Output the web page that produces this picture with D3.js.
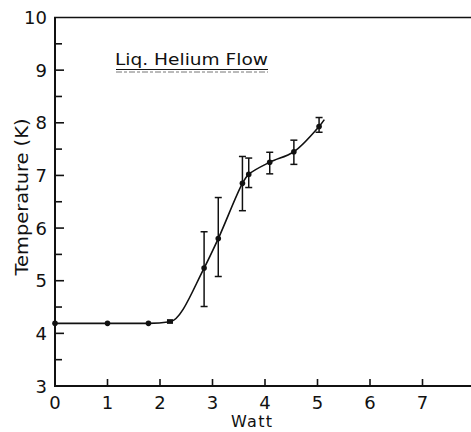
<!DOCTYPE html>
<html>
<head>
  <script src="https://d3js.org/d3.v7.min.js"></script>
  <style>
    body { margin: 0; background: #fff; }
    text { font-family: "DejaVu Sans", sans-serif; fill: #111; }
  </style>
</head>
<body>
  <svg id="svg" width="471" height="432"></svg>
  <script>
    // data
    const watt = [0, 1.0, 1.78, 2.19, 2.84, 3.11, 3.57, 3.69, 4.09, 4.55, 5.03];
    const temp = [4.19, 4.19, 4.19, 4.22, 5.24, 5.80, 6.85, 7.02, 7.25, 7.45, 7.93];
    const errLow = [null, null, null, 4.18, 4.51, 5.08, 6.33, 6.77, 7.03, 7.21, 7.82];
    const errHigh = [null, null, null, 4.27, 5.93, 6.58, 7.36, 7.33, 7.44, 7.67, 8.10];
    const marker = ["circle", "circle", "circle", "square", "circle", "circle", "circle", "circle", "circle", "circle", "circle"];
    // end of the hand-drawn curve, past the last point
    const curveEnd = [5.13, 8.06];
    const xTicks = [0, 1, 2, 3, 4, 5, 6, 7];
    const yTicks = [3, 4, 5, 6, 7, 8, 9, 10];
    const yMinor = [3.5, 4.5, 5.5, 6.5, 7.5, 8.5, 9.5];

    const svg = d3.select("#svg");

    const x = d3.scaleLinear().domain([0, 7]).range([55, 422.5]);
    const y = d3.scaleLinear().domain([3, 10]).range([386, 17.5]);

    const points = watt.map((w, i) => ({ w: w, t: temp[i], lo: errLow[i], hi: errHigh[i], m: marker[i] }));

    const ink = "#111";

    // frame: left, bottom, top (open on the right)
    svg.append("line").attr("x1", 55).attr("x2", 55).attr("y1", y(10)).attr("y2", y(3))
      .attr("stroke", ink).attr("stroke-width", 2);
    svg.append("line").attr("x1", 54).attr("x2", 471).attr("y1", y(3)).attr("y2", y(3))
      .attr("stroke", ink).attr("stroke-width", 2);
    svg.append("line").attr("x1", 54).attr("x2", 471).attr("y1", y(10)).attr("y2", y(10))
      .attr("stroke", ink).attr("stroke-width", 1.6);

    // y axis ticks (inward) and labels
    svg.selectAll("line.ymaj").data(yTicks.slice(1, -1)).join("line")
      .attr("class", "ymaj")
      .attr("x1", 55).attr("x2", 64).attr("y1", d => y(d)).attr("y2", d => y(d))
      .attr("stroke", ink).attr("stroke-width", 1.6);
    svg.selectAll("line.ymin").data(yMinor).join("line")
      .attr("class", "ymin")
      .attr("x1", 55).attr("x2", 62).attr("y1", d => y(d)).attr("y2", d => y(d))
      .attr("stroke", ink).attr("stroke-width", 1.6);
    svg.selectAll("text.ylab").data(yTicks).join("text")
      .attr("class", "ylab")
      .attr("x", 47).attr("y", d => y(d) + 6.5)
      .attr("text-anchor", "end")
      .style("font-size", "18px")
      .text(d => d);

    // x axis ticks (inward) and labels
    svg.selectAll("line.xmaj").data(xTicks.slice(1)).join("line")
      .attr("class", "xmaj")
      .attr("x1", d => x(d)).attr("x2", d => x(d)).attr("y1", y(3)).attr("y2", y(3) - 7)
      .attr("stroke", ink).attr("stroke-width", 1.6);
    svg.selectAll("text.xlab").data(xTicks).join("text")
      .attr("class", "xlab")
      .attr("x", d => x(d)).attr("y", 409)
      .attr("text-anchor", "middle")
      .style("font-size", "18px")
      .text(d => d);

    // axis titles
    svg.append("text").attr("x", 231).attr("y", 427)
      .attr("textLength", 41).attr("lengthAdjust", "spacing")
      .style("font-size", "16px").text("Watt");
    svg.append("text")
      .attr("transform", "translate(28,197) rotate(-90)")
      .attr("text-anchor", "middle")
      .attr("textLength", 157).attr("lengthAdjust", "spacingAndGlyphs")
      .style("font-size", "18px").text("Temperature (K)");

    // title with double underline
    svg.append("text").attr("x", 115).attr("y", 65)
      .attr("textLength", 153).attr("lengthAdjust", "spacingAndGlyphs")
      .style("font-size", "16px").text("Liq. Helium Flow");
    svg.append("line").attr("x1", 116).attr("x2", 268).attr("y1", 69.5).attr("y2", 69.5)
      .attr("stroke", ink).attr("stroke-width", 1.2);
    svg.append("line").attr("x1", 116).attr("x2", 268).attr("y1", 72).attr("y2", 72)
      .attr("stroke", "#777").attr("stroke-width", 1).attr("stroke-dasharray", "6,2,3,2");

    // smooth curve: monotone for the flat run and the knee,
    // catmull-rom (clipped) for the upper part
    const curveData = points.map(d => [d.w, d.t]).concat([curveEnd]);
    const joinAt = 5; // index of the point where the two pieces meet
    const lowLine = d3.line()
      .x(d => x(d[0]))
      .y(d => y(d[1]))
      .curve(d3.curveMonotoneX);
    const highLine = d3.line()
      .x(d => x(d[0]))
      .y(d => y(d[1]))
      .curve(d3.curveCatmullRom.alpha(0.5));

    svg.append("clipPath").attr("id", "highClip")
      .append("rect")
      .attr("x", x(watt[joinAt])).attr("y", 0)
      .attr("width", 471 - x(watt[joinAt])).attr("height", 432);

    svg.append("path")
      .attr("d", lowLine(curveData.slice(0, joinAt + 1)))
      .attr("fill", "none").attr("stroke", ink).attr("stroke-width", 1.6);
    svg.append("path")
      .attr("d", highLine(curveData.slice(joinAt - 1)))
      .attr("clip-path", "url(#highClip)")
      .attr("fill", "none").attr("stroke", ink).attr("stroke-width", 1.6);

    // error bars
    const errs = points.filter(d => d.lo !== null && d.m === "circle");
    const eb = svg.append("g").attr("stroke", ink).attr("stroke-width", 1.5);
    eb.selectAll("line.v").data(errs).join("line")
      .attr("x1", d => x(d.w)).attr("x2", d => x(d.w))
      .attr("y1", d => y(d.lo)).attr("y2", d => y(d.hi));
    eb.selectAll("line.top").data(errs).join("line")
      .attr("x1", d => x(d.w) - 3.5).attr("x2", d => x(d.w) + 3.5)
      .attr("y1", d => y(d.hi)).attr("y2", d => y(d.hi));
    eb.selectAll("line.bot").data(errs).join("line")
      .attr("x1", d => x(d.w) - 3.5).attr("x2", d => x(d.w) + 3.5)
      .attr("y1", d => y(d.lo)).attr("y2", d => y(d.lo));

    // markers
    svg.selectAll("circle.pt").data(points.filter(d => d.m === "circle")).join("circle")
      .attr("class", "pt")
      .attr("cx", d => x(d.w)).attr("cy", d => y(d.t)).attr("r", 2.8)
      .attr("fill", ink);
    svg.selectAll("rect.pt").data(points.filter(d => d.m === "square")).join("rect")
      .attr("class", "pt")
      .attr("x", d => x(d.w) - 3).attr("y", d => y(d.hi))
      .attr("width", 6).attr("height", d => y(d.lo) - y(d.hi))
      .attr("fill", ink);
  </script>
</body>
</html>
